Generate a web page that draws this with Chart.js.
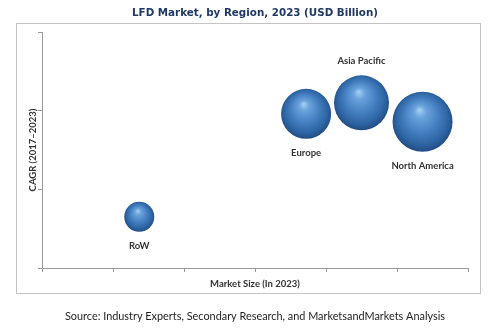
<!DOCTYPE html>
<html><head><meta charset="utf-8">
<script src="https://cdn.jsdelivr.net/npm/chart.js@4.4.1/dist/chart.umd.min.js"></script>
<style>html,body{margin:0;padding:0;background:#fff}#wrap{width:500px;height:332px;position:relative}</style>
</head><body><div id="wrap"><canvas id="c" width="500" height="332"></canvas></div>
<script>
const regions = ['Europe', 'Asia Pacific', 'North America', 'RoW'];
const marketSize = [3.72, 4.5, 5.36, 1.37];   // x (relative, no tick labels)
const cagr = [1.96, 2.1, 1.86, 0.65];         // y (relative, no tick labels)
const bubbleSize = [25, 27.5, 30, 15];        // bubble radius
const labelSide = ['bottom', 'top', 'bottom', 'bottom'];
const titleText = 'LFD Market, by Region, 2023 (USD Billion)';
const sourceText = 'Source: Industry Experts, Secondary Research, and MarketsandMarkets Analysis';
const xTitle = 'Market Size (In 2023)';
const yTitle = 'CAGR (2017\u20132023)';

const points = regions.map((r, i) => ({x: marketSize[i], y: cagr[i], r: bubbleSize[i]}));

function sphere(ctx) {
  const chart = ctx.chart;
  const raw = ctx.raw;
  if (!raw || !chart.scales.x || !chart.chartArea) return '#3a75b8';
  const cx = chart.scales.x.getPixelForValue(raw.x);
  const cy = chart.scales.y.getPixelForValue(raw.y);
  const r = raw.r;
  if (!isFinite(cx) || !isFinite(cy)) return '#3a75b8';
  const g = chart.ctx.createRadialGradient(cx - r * 0.1, cy - r * 0.4, 0, cx, cy - r * 0.05, r * 1.02);
  g.addColorStop(0, '#a9d2f6');
  g.addColorStop(0.2, '#6aa3dc');
  g.addColorStop(0.55, '#4580c2');
  g.addColorStop(0.85, '#2d64a3');
  g.addColorStop(1, '#244f86');
  return g;
}

const deco = {
  id: 'deco',
  beforeDraw(chart) {
    const c = chart.ctx;
    c.save();
    c.fillStyle = '#fff';
    c.fillRect(0, 0, chart.width, chart.height);
    c.strokeStyle = '#c4c4c4';
    c.lineWidth = 1;
    c.strokeRect(16.5, 23.5, 464, 270);
    c.restore();
  },
  afterDraw(chart) {
    const c = chart.ctx;
    c.save();
    c.textAlign = 'center';
    c.textBaseline = 'middle';
    c.fillStyle = '#1f3864';
    c.font = 'bold 10.5px "DejaVu Sans"';
    c.fillText(titleText, 255, 13, 246);
    c.fillStyle = '#222';
    c.font = '11.5px Lato';
    c.fillText(sourceText, 255, 316, 380);
    const meta = chart.getDatasetMeta(0);
    c.fillStyle = '#333';
    c.font = 'bold 9.5px Lato';
    meta.data.forEach((el, i) => {
      const r = points[i].r;
      const y = labelSide[i] === 'top' ? el.y - r - 14 : el.y + r + 14;
      c.fillText(regions[i], el.x, y);
    });
    c.restore();
  }
};

const axisFont = {family: 'Lato', size: 9.5, weight: 'bold'};
const chart = new Chart(document.getElementById('c'), {
  type: 'bubble',
  data: {
    datasets: [{
      data: points,
      backgroundColor: sphere,
      borderWidth: 0,
      hoverBorderWidth: 0,
      clip: false
    }]
  },
  options: {
    responsive: false,
    animation: false,
    events: [],
    layout: {padding: {top: 32, right: 32, left: 0, bottom: 0}},
    plugins: {legend: {display: false}, tooltip: {enabled: false}, title: {display: false}},
    scales: {
      x: {
        type: 'linear', min: 0, max: 6,
        ticks: {display: false, stepSize: 1},
        grid: {drawOnChartArea: false, drawTicks: true, tickLength: 4, color: '#9a9a9a'},
        border: {color: '#9a9a9a'},
        title: {display: true, text: xTitle, color: '#333', font: axisFont, padding: {top: 0, bottom: 42.3}},
        afterFit(s) { s.height = 64; }
      },
      y: {
        type: 'linear', min: 0, max: 3,
        ticks: {display: false, stepSize: 1},
        grid: {drawOnChartArea: false, drawTicks: true, tickLength: 4, color: '#9a9a9a'},
        border: {color: '#9a9a9a'},
        title: {display: true, text: yTitle, color: '#333', font: axisFont, padding: {top: 27.3, bottom: 0}},
        afterFit(s) { s.width = 42; }
      }
    }
  },
  plugins: [deco]
});
chart.update();
</script></body></html>
